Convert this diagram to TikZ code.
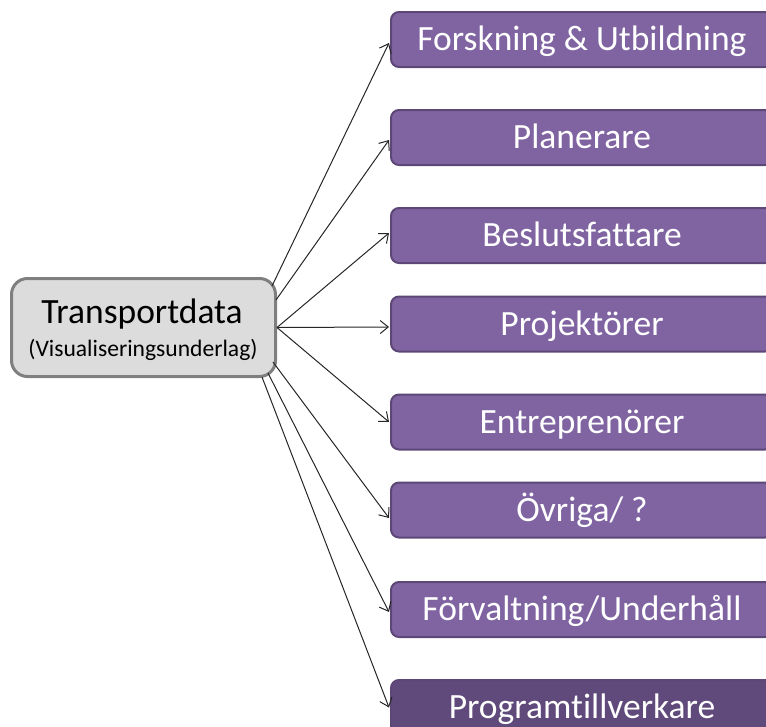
\documentclass[tikz,border=0pt]{standalone}
\usepackage{fontspec}
\setmainfont[Ligatures=NoCommon]{Carlito}
\usetikzlibrary{arrows.meta}
\definecolor{purplebox}{HTML}{8064A2}
\definecolor{purpleedge}{HTML}{5C4776}
\definecolor{purpledark}{HTML}{604A7B}
\definecolor{grayfill}{HTML}{DCDCDC}
\definecolor{grayedge}{HTML}{7F7F7F}
\tikzset{
  target/.style={draw=purpleedge, line width=2pt, fill=purplebox, rounded corners=8pt,
    minimum width=382pt, minimum height=55pt, inner sep=0pt,
    text=white, font=\fontsize{35.5}{35.5}\selectfont, text height=22.5pt, text depth=0pt},
  source/.style={draw=grayedge, line width=3pt, fill=grayfill, rounded corners=16pt,
    minimum width=264pt, minimum height=98pt, inner sep=0pt},
  link/.style={draw=black!85, line width=1pt, -{Straight Barb[length=8pt,width=13pt]}},
}
\begin{document}
\begin{tikzpicture}[x=1pt,y=-1pt]
\useasboundingbox (0,0) rectangle (766,726);
\clip (0,0) rectangle (766,726);
\node[source] (src) at (143.5,327.5) {};
\node[anchor=base, font=\fontsize{35.5}{35.5}\selectfont] (t1) at (142,323) {Transportdata};
\node[anchor=base, font=\fontsize{23.6}{23.6}\selectfont] (t2) at (143,356) {(Visualiseringsunderlag)};

\node[target] (b1) at (582,39.5) {Forskning \& Utbildning};
\node[target] (b2) at (582,137.5) {Planerare};
\node[target] (b3) at (582,235.5) {Beslutsfattare};
\node[target] (b4) at (582,324) {Projektörer};
\node[target] (b5) at (582,422) {Entreprenörer};
\node[target] (b6) at (582,510) {Övriga/ ?};
\node[target] (b7) at (582,609.5) {Förvaltning/Underhåll};
\node[target, fill=purpledark] (b8) at (582,707.5) {Programtillverkare};

\coordinate (s1) at ([xshift=-5pt,yshift=-9pt]src.north east);
\coordinate (s2) at ([xshift=-1pt,yshift=-23pt]src.north east);
\coordinate (s6) at ([xshift=-4pt,yshift=16pt]src.south east);
\coordinate (s7) at ([xshift=-9pt,yshift=5pt]src.south east);
\coordinate (s8) at ([xshift=-15pt,yshift=1pt]src.south east);

\draw[link] (s1) -- ([xshift=-1pt,yshift=-3.5pt]b1.west);
\draw[link] (s2) -- ([xshift=-1pt,yshift=-2.5pt]b2.west);
\draw[link] (src.east) -- ([xshift=-1pt,yshift=2.5pt]b3.west);
\draw[link] (src.east) -- ([xshift=-1pt,yshift=-3pt]b4.west);
\draw[link] (src.east) -- ([xshift=-1pt]b5.west);
\draw[link] (s6) -- ([xshift=-1pt,yshift=-8pt]b6.west);
\draw[link] (s7) -- ([xshift=-1pt,yshift=-2.5pt]b7.west);
\draw[link] (s8) -- ([xshift=-1pt]b8.west);
\end{tikzpicture}
\end{document}
